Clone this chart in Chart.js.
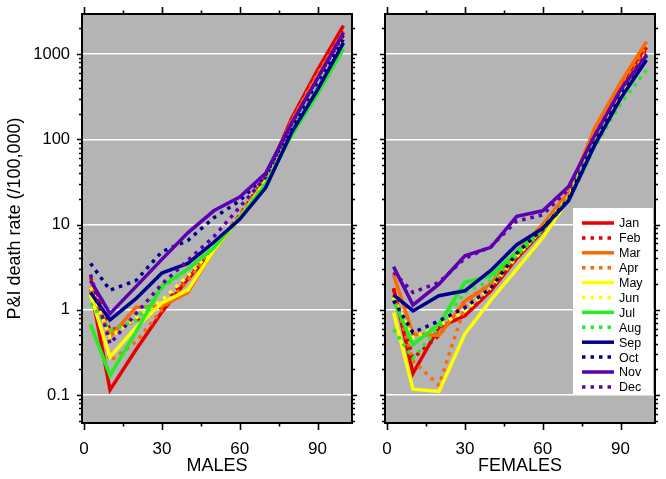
<!DOCTYPE html>
<html><head><meta charset="utf-8">
<script src="https://cdn.jsdelivr.net/npm/chart.js@4.4.1/dist/chart.umd.min.js"></script>
<style>
body{margin:0;background:#fff;width:666px;height:479px;overflow:hidden;position:relative}
#c1{position:absolute;left:0;top:0}
#c2{position:absolute;left:370px;top:0}
</style>
</head><body>
<canvas id="c1" width="370" height="479"></canvas>
<canvas id="c2" width="296" height="479"></canvas>
<script>
const ages = [2.5, 10, 20, 30, 40, 50, 60, 70, 80, 90, 100];
const months = ['Jan','Feb','Mar','Apr','May','Jun','Jul','Aug','Sep','Oct','Nov','Dec'];
const monthColors = ['#e60000','#e60000','#ff6a00','#ff6a00','#ffff00','#ffff00','#22ee22','#22ee22','#000090','#000090','#5c00b0','#5c00b0'];
const monthDotted = [false,true,false,true,false,true,false,true,false,true,false,true];
const xTickLabels = [0, 30, 60, 90];
const yTickLabels = [0.1, 1, 10, 100, 1000];

const malesJan = [1.85, 0.115, 0.34, 0.94, 2.3, 5.0, 12, 34, 175, 650, 2150];
const malesFeb = [2.4, 0.57, 0.75, 1.1, 2.4, 5.2, 13, 36, 170, 600, 1900];
const malesMar = [1.9, 0.48, 1.07, 1.1, 1.6, 5.0, 12, 33, 160, 560, 1800];
const malesApr = [1.7, 0.25, 0.42, 1.0, 2.2, 5.3, 13, 35, 165, 580, 1850];
const malesMay = [1.5, 0.28, 0.62, 1.2, 1.7, 5.0, 12, 32, 150, 520, 1600];
const malesJun = [1.85, 0.48, 0.8, 1.3, 2.5, 5.2, 12, 32, 150, 520, 1550];
const malesJul = [0.67, 0.17, 0.55, 1.9, 3.0, 5.3, 12, 30, 110, 340, 1150];
const malesAug = [1.2, 0.57, 0.75, 1.8, 3.0, 5.5, 12, 31, 125, 400, 1350];
const malesSep = [1.6, 0.76, 1.35, 2.7, 3.5, 6.2, 11.5, 27, 120, 380, 1350];
const malesOct = [3.5, 1.7, 2.2, 4.8, 6.5, 12, 19, 38, 140, 470, 1500];
const malesNov = [2.2, 0.9, 1.87, 3.9, 8, 14.5, 21, 40, 155, 520, 1780];
const malesDec = [2.6, 0.4, 0.9, 2.0, 3.8, 7.2, 16, 36, 150, 520, 1650];

const femalesJan = [1.8, 0.18, 0.62, 0.85, 1.67, 4.0, 8.5, 20, 100, 380, 1200];
const femalesFeb = [1.75, 0.27, 0.5, 1.27, 2.0, 4.5, 9, 21, 105, 400, 1150];
const femalesMar = [2.6, 0.52, 0.5, 1.27, 2.0, 4.8, 10, 24, 135, 460, 1400];
const femalesApr = [1.5, 0.25, 0.13, 1.1, 2.0, 4.5, 9.5, 22, 115, 420, 1250];
const femalesMay = [0.93, 0.117, 0.11, 0.52, 1.3, 3.0, 7, 20, 95, 340, 1000];
const femalesJun = [1.4, 0.47, 0.65, 0.97, 1.8, 4.2, 9, 21, 100, 360, 1050];
const femalesJul = [1.28, 0.39, 0.68, 2.1, 2.5, 4.8, 9, 20, 90, 300, 900];
const femalesAug = [0.59, 0.27, 0.62, 1.6, 2.2, 4.3, 8.5, 19, 80, 260, 650];
const femalesSep = [1.5, 0.97, 1.46, 1.67, 2.9, 5.8, 9, 19, 85, 300, 850];
const femalesOct = [1.28, 0.54, 0.74, 1.06, 1.8, 4.6, 9, 20, 95, 330, 950];
const femalesNov = [3.2, 1.14, 2.0, 4.3, 5.4, 12.5, 14.5, 28, 110, 380, 970];
const femalesDec = [2.75, 1.6, 2.1, 4.0, 5.5, 11, 13, 26, 110, 370, 1000];

const males = [malesJan,malesFeb,malesMar,malesApr,malesMay,malesJun,malesJul,malesAug,malesSep,malesOct,malesNov,malesDec];
const females = [femalesJan,femalesFeb,femalesMar,femalesApr,femalesMay,femalesJun,femalesJul,femalesAug,femalesSep,femalesOct,femalesNov,femalesDec];

const FONT = '"Liberation Sans", Arial, Helvetica, sans-serif';
const X_MIN = -0.8, X_MAX = 103.3, Y_MIN = 0.047, Y_MAX = 2950;

function makeDatasets(series) {
  return series.map((vals, i) => ({
    label: months[i],
    data: ages.map((a, j) => ({x: a, y: vals[j]})),
    borderColor: monthColors[i],
    backgroundColor: monthColors[i],
    borderWidth: 3.5,
    borderDash: monthDotted[i] ? [3.5, 5] : [],
    borderCapStyle: 'butt',
    pointRadius: 0,
    tension: 0,
    fill: false,
    order: -i
  }));
}

const framePlugin = {
  id: 'frame',
  beforeDraw(chart) {
    const {ctx, chartArea: a} = chart;
    ctx.save();
    ctx.fillStyle = '#b4b4b4';
    ctx.fillRect(a.left, a.top, a.right - a.left, a.bottom - a.top);
    ctx.restore();
  },
  afterDraw(chart) {
    const {ctx, chartArea: a} = chart;
    const xs = chart.scales.x, ys = chart.scales.y;
    ctx.save();
    ctx.strokeStyle = '#000';
    ctx.lineWidth = 1.6;
    ctx.beginPath();
    for (let v = 0; v <= X_MAX; v += 15) {
      const px = Math.round(xs.getPixelForValue(v)) + 0.5;
      const len = (v % 30 === 0) ? 7 : 3.5;
      ctx.moveTo(px, a.bottom); ctx.lineTo(px, a.bottom + len);
      ctx.moveTo(px, a.top); ctx.lineTo(px, a.top - len);
    }
    for (let d = 0.01; d < 10000; d *= 10) {
      for (let k = 1; k <= 9; k++) {
        const v = k * d;
        if (v < Y_MIN || v > Y_MAX) continue;
        const py = Math.round(ys.getPixelForValue(v)) + 0.5;
        const len = k === 1 ? 5 : 3;
        ctx.moveTo(a.left, py); ctx.lineTo(a.left - len, py);
        ctx.moveTo(a.right, py); ctx.lineTo(a.right + len, py);
      }
    }
    ctx.stroke();
    ctx.lineWidth = 2;
    ctx.strokeRect(a.left, a.top, a.right - a.left, a.bottom - a.top);
    ctx.restore();
  }
};

const legendPlugin = {
  id: 'boxlegend',
  afterDraw(chart) {
    if (!chart.options.plugins.boxlegend || !chart.options.plugins.boxlegend.show) return;
    const {ctx, chartArea: a} = chart;
    const left = a.right - 82, top = a.top + 194, w = 80, h = 186;
    ctx.save();
    ctx.fillStyle = '#fff';
    ctx.fillRect(left, top, w, h);
    ctx.font = '12.5px ' + FONT;
    ctx.textBaseline = 'middle';
    chart.data.datasets.forEach((ds, i) => {
      const y = top + 15 + i * 14.9;
      ctx.strokeStyle = ds.borderColor;
      ctx.lineWidth = 3.5;
      ctx.setLineDash(ds.borderDash);
      ctx.beginPath();
      ctx.moveTo(left + 9, y); ctx.lineTo(left + 41, y);
      ctx.stroke();
      ctx.setLineDash([]);
      ctx.fillStyle = '#000';
      ctx.fillText(ds.label, left + 46, y + 1);
    });
    ctx.restore();
  }
};

function makeChart(id, series, xTitle, isLeft) {
  return new Chart(document.getElementById(id), {
    type: 'line',
    data: {datasets: makeDatasets(series)},
    options: {
      responsive: false,
      animation: false,
      layout: {padding: {top: 14, right: isLeft ? 18 : 11, left: 0, bottom: 0}},
      plugins: {legend: {display: false}, tooltip: {enabled: false}, boxlegend: {show: !isLeft}},
      scales: {
        x: {
          type: 'linear', position: 'bottom', min: X_MIN, max: X_MAX,
          afterBuildTicks: s => { s.ticks = xTickLabels.map(v => ({value: v})); },
          ticks: {color: '#000', font: {size: 17, family: FONT}, padding: 8, maxRotation: 0, autoSkip: false,
                  callback: v => String(v)},
          grid: {display: false},
          border: {display: false},
          title: {display: true, text: xTitle, color: '#000', font: {size: 18, family: FONT}, padding: {top: 0, bottom: 2}},
          afterFit: s => { s.height = 56; s.paddingLeft = 0; s.paddingRight = 0; }
        },
        y: {
          type: 'logarithmic', position: 'left', min: Y_MIN, max: Y_MAX,
          afterBuildTicks: s => { s.ticks = yTickLabels.map(v => ({value: v})); },
          ticks: {display: isLeft, color: '#000', font: {size: 16.5, family: FONT}, padding: 12, autoSkip: false,
                  callback: v => String(v)},
          grid: {display: true, drawOnChartArea: true, drawTicks: false, color: '#ffffff', lineWidth: 1.5},
          border: {display: false},
          title: {display: isLeft, text: 'P&I death rate (/100,000)', color: '#000', font: {size: 18, family: FONT}, padding: {top: 4, bottom: 0}},
          afterFit: s => { s.width = isLeft ? 82 : 15; s.paddingTop = 0; s.paddingBottom = 0; }
        }
      }
    },
    plugins: [framePlugin, legendPlugin]
  });
}

makeChart('c1', males, 'MALES', true);
makeChart('c2', females, 'FEMALES', false);
</script>
</body></html>
